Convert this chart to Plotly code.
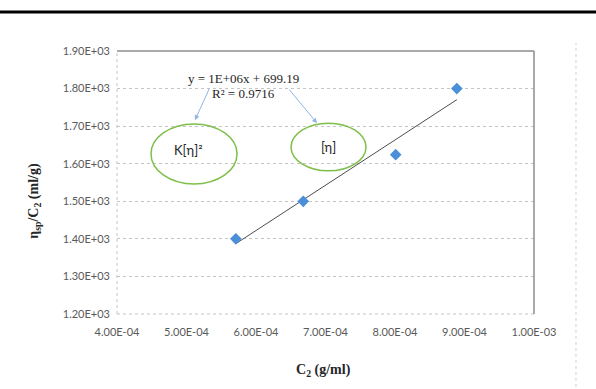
import plotly.graph_objects as go

# Measured concentrations (g/ml) and reduced viscosities (ml/g)
conc = [5.71e-4, 6.68e-4, 8.01e-4, 8.89e-4]
reduced_visc = [1400, 1500, 1624, 1800]

# Linear trendline parameters and goodness of fit
trend_slope = 1.205e6
trend_intercept = 699.19
trend_r2 = 0.9716

# Axis ticks
x_ticks = [4e-4, 5e-4, 6e-4, 7e-4, 8e-4, 9e-4, 1e-3]
x_ticktext = ["4.00E-04", "5.00E-04", "6.00E-04", "7.00E-04", "8.00E-04", "9.00E-04", "1.00E-03"]
y_ticks = [1200, 1300, 1400, 1500, 1600, 1700, 1800, 1900]
y_ticktext = ["1.20E+03", "1.30E+03", "1.40E+03", "1.50E+03", "1.60E+03", "1.70E+03", "1.80E+03", "1.90E+03"]

trend_x = [min(conc), max(conc)]
trend_y = [trend_slope * v + trend_intercept for v in trend_x]

TICK_FONT = dict(family="Lato, Liberation Sans, sans-serif", size=11, color="#595959")
SERIF = "Liberation Serif, Times New Roman, serif"
SANS = "Lato, Liberation Sans, sans-serif"
GREEN = "#7dbf4a"
ARROW = "#8fb6e6"

fig = go.Figure()
fig.add_trace(go.Scatter(
    x=trend_x, y=trend_y, mode="lines",
    line=dict(color="#4d4d4d", width=1), hoverinfo="skip", showlegend=False,
))
fig.add_trace(go.Scatter(
    x=conc, y=reduced_visc, mode="markers",
    marker=dict(symbol="diamond", size=9, color="#4a8fd8", line=dict(width=0)),
    showlegend=False,
))

fig.update_layout(
    width=596, height=389,
    margin=dict(l=117, r=62, t=51, b=75),
    paper_bgcolor="white", plot_bgcolor="white",
    xaxis=dict(
        range=[4e-4, 1e-3], tickvals=x_ticks, ticktext=x_ticktext,
        showgrid=False, zeroline=False, showline=False, ticks="",
        tickfont=TICK_FONT, ticklabelstandoff=10,
    ),
    yaxis=dict(
        range=[1200, 1900], tickvals=y_ticks, ticktext=y_ticktext,
        showgrid=True, gridcolor="#c4c4c4", gridwidth=1, griddash="dot",
        zeroline=False, showline=False, ticks="",
        tickfont=TICK_FONT, ticklabelstandoff=6,
    ),
)

# Plot-area frame: dotted left/bottom, solid top/right
fig.add_shape(type="line", xref="x domain", yref="y domain", x0=0, x1=0, y0=0, y1=1,
              line=dict(color="#c4c4c4", width=1, dash="dot"))
fig.add_shape(type="line", xref="x domain", yref="y domain", x0=0, x1=1, y0=0, y1=0,
              line=dict(color="#c4c4c4", width=1, dash="dot"))
fig.add_shape(type="line", xref="x domain", yref="y domain", x0=0, x1=1, y0=1, y1=1,
              line=dict(color="#8c8c8c", width=1.5))
fig.add_shape(type="line", xref="x domain", yref="y domain", x0=1, x1=1, y0=0, y1=1,
              line=dict(color="#8c8c8c", width=1.5))

# Page rule above the chart and dotted page edge on the right
fig.add_shape(type="line", xref="paper", yref="paper", x0=-0.3, x1=1.2, y0=1.148, y1=1.148,
              line=dict(color="black", width=3))
fig.add_shape(type="line", xref="paper", yref="paper", x0=1.1007, x1=1.1007, y0=-0.3, y1=1.03,
              line=dict(color="#cfcfcf", width=1, dash="dot"))

# Ellipses marking the slope and intercept terms
fig.add_shape(type="circle", xref="x", yref="y", x0=4.489e-4, x1=5.727e-4, y0=1546, y1=1706,
              line=dict(color=GREEN, width=1.5))
fig.add_shape(type="circle", xref="x", yref="y", x0=6.504e-4, x1=7.583e-4, y0=1581, y1=1708,
              line=dict(color=GREEN, width=1.5))

annotations = [
    dict(x=5.813e-4, y=1828, xref="x", yref="y",
         text=f"y = {trend_slope:.0E}x + {trend_intercept:.2f}", showarrow=False,
         font=dict(family=SERIF, size=13, color="#262626")),
    dict(x=5.813e-4, y=1786, xref="x", yref="y",
         text=f"R² = {trend_r2:.4f}", showarrow=False,
         font=dict(family=SERIF, size=13, color="#262626")),
    dict(x=5.122e-4, y=1716, xref="x", yref="y", ax=15, ay=-33, text="",
         showarrow=True, arrowhead=2, arrowsize=1, arrowwidth=1, arrowcolor=ARROW),
    dict(x=6.878e-4, y=1708, xref="x", yref="y", ax=-29, ay=-35, text="",
         showarrow=True, arrowhead=2, arrowsize=1, arrowwidth=1, arrowcolor=ARROW),
    dict(x=5.03e-4, y=1637, xref="x", yref="y", text="K[η]²", showarrow=False,
         font=dict(family=SANS, size=13, color="#262626")),
    dict(x=7.05e-4, y=1644, xref="x", yref="y", text="[η]", showarrow=False,
         font=dict(family=SANS, size=13, color="#262626")),
    dict(x=-0.197, y=0.43, xref="paper", yref="paper", textangle=-90,
         text="<b>η<sub>sp</sub>/C<sub>2</sub> (ml/g)</b>", showarrow=False,
         xanchor="center", yanchor="middle",
         font=dict(family=SERIF, size=14, color="#262626")),
    dict(x=0.496, y=-0.213, xref="paper", yref="paper",
         text="<b>C<sub>2</sub> (g/ml)</b>", showarrow=False,
         xanchor="center", yanchor="middle",
         font=dict(family=SERIF, size=14, color="#262626")),
]
fig.update_layout(annotations=annotations)

fig.write_html("out.html")
